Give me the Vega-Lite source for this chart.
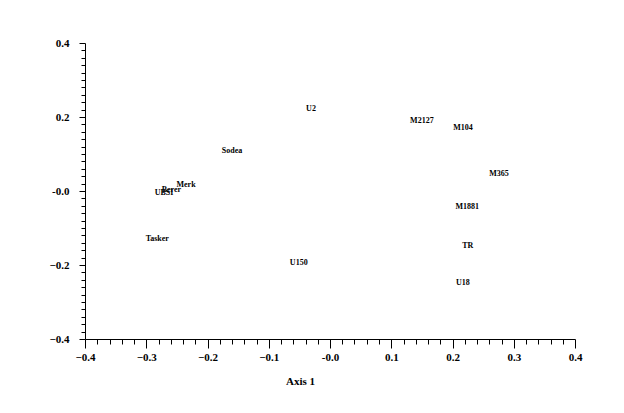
{
  "$schema": "https://vega.github.io/schema/vega-lite/v6.json",
  "width": 490,
  "height": 296,
  "autosize": {"type": "none"},
  "padding": {"left": 85, "top": 43, "right": 49, "bottom": 74},
  "background": "white",
  "config": {"view": {"stroke": null}},
  "data": {"values": [
    {"name": "U2", "a1": -0.031, "a2": 0.224},
    {"name": "M2127", "a1": 0.150, "a2": 0.192},
    {"name": "M104", "a1": 0.217, "a2": 0.173},
    {"name": "M365", "a1": 0.276, "a2": 0.049},
    {"name": "M1881", "a1": 0.224, "a2": -0.041},
    {"name": "TR", "a1": 0.225, "a2": -0.146},
    {"name": "U18", "a1": 0.217, "a2": -0.246},
    {"name": "U150", "a1": -0.051, "a2": -0.192},
    {"name": "Sodea", "a1": -0.160, "a2": 0.111},
    {"name": "Merk", "a1": -0.235, "a2": 0.019},
    {"name": "Berer", "a1": -0.259, "a2": 0.005},
    {"name": "UBSI", "a1": -0.271, "a2": -0.003},
    {"name": "Tasker", "a1": -0.282, "a2": -0.127}
  ]},
  "mark": {"type": "text", "font": "Liberation Serif", "fontWeight": "bold", "fontSize": 8, "color": "black", "align": "center", "baseline": "middle", "dy": 1},
  "encoding": {
    "x": {"field": "a1", "type": "quantitative",
      "scale": {"domain": [-0.4, 0.4], "nice": false, "zero": false},
      "axis": {
        "values": [-0.4,-0.38,-0.36,-0.34,-0.32,-0.3,-0.28,-0.26,-0.24,-0.22,-0.2,-0.18,-0.16,-0.14,-0.12,-0.1,-0.08,-0.06,-0.04,-0.02,0,0.02,0.04,0.06,0.08,0.1,0.12,0.14,0.16,0.18,0.2,0.22,0.24,0.26,0.28,0.3,0.32,0.34,0.36,0.38,0.4],
        "labelExpr": "abs(datum.value*10 - round(datum.value*10)) < 0.001 ? (abs(datum.value) < 0.001 ? '-0.0' : format(datum.value, '.1f')) : ''",
        "tickSize": {"condition": {"test": "abs(datum.value*10 - round(datum.value*10)) < 0.001", "value": 9}, "value": 5},
        "grid": false, "domainColor": "black", "tickColor": "black", "domainWidth": 1, "tickWidth": 1,
        "labelFont": "Liberation Serif", "labelFontWeight": "bold", "labelFontSize": 11, "labelColor": "black",
        "labelPadding": 3, "labelOverlap": false, "labelFlush": false,
        "title": "Axis 1", "titleFont": "Liberation Serif", "titleFontWeight": "bold", "titleFontSize": 11, "titleColor": "black",
        "titleX": 215, "titlePadding": 13
      }
    },
    "y": {"field": "a2", "type": "quantitative",
      "scale": {"domain": [-0.4, 0.4], "nice": false, "zero": false},
      "axis": {
        "values": [-0.4,-0.38,-0.36,-0.34,-0.32,-0.3,-0.28,-0.26,-0.24,-0.22,-0.2,-0.18,-0.16,-0.14,-0.12,-0.1,-0.08,-0.06,-0.04,-0.02,0,0.02,0.04,0.06,0.08,0.1,0.12,0.14,0.16,0.18,0.2,0.22,0.24,0.26,0.28,0.3,0.32,0.34,0.36,0.38,0.4],
        "labelExpr": "abs(datum.value*5 - round(datum.value*5)) < 0.001 ? (abs(datum.value) < 0.001 ? '-0.0' : format(datum.value, '.1f')) : ''",
        "tickSize": {"condition": {"test": "abs(datum.value*5 - round(datum.value*5)) < 0.001", "value": 6}, "value": 4},
        "grid": false, "domainColor": "black", "tickColor": "black", "domainWidth": 1, "tickWidth": 1,
        "labelFont": "Liberation Serif", "labelFontWeight": "bold", "labelFontSize": 11, "labelColor": "black",
        "labelPadding": 10, "labelOverlap": false, "labelFlush": false,
        "title": null
      }
    },
    "text": {"field": "name", "type": "nominal"}
  }
}
